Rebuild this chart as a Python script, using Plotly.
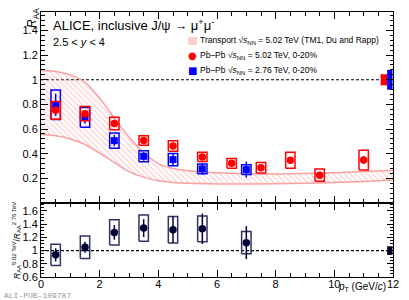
import plotly.graph_objects as go

# ---------------- data ----------------
pt_502 = [0.5, 1.5, 2.5, 3.5, 4.5, 5.5, 6.5, 7.5, 8.5, 9.5, 11.0]
raa_502 = [0.752, 0.725, 0.645, 0.507, 0.462, 0.374, 0.322, 0.286, 0.346, 0.226, 0.348]
stat_502 = [0.03, 0.025, 0.02, 0.02, 0.02, 0.02, 0.015, 0.015, 0.025, 0.02, 0.03]
sys_502 = [0.072, 0.058, 0.05, 0.038, 0.043, 0.037, 0.04, 0.043, 0.065, 0.05, 0.08]

pt_276 = [0.5, 1.5, 2.5, 3.5, 4.5, 5.5, 7.0]
raa_276 = [0.797, 0.695, 0.506, 0.379, 0.352, 0.277, 0.271]
stat_276 = [0.09, 0.05, 0.045, 0.035, 0.045, 0.047, 0.065]
sys_276 = [0.12, 0.08, 0.062, 0.045, 0.05, 0.04, 0.04]

pt_ratio = [0.5, 1.5, 2.5, 3.5, 4.5, 5.5, 7.0]
ratio = [0.935, 1.05, 1.275, 1.34, 1.315, 1.33, 1.12]
ratio_stat = [0.1, 0.083, 0.11, 0.135, 0.2, 0.23, 0.25]
ratio_sys = [0.16, 0.17, 0.19, 0.2, 0.2, 0.195, 0.17]

model_pt = [0, 0.5, 1, 1.5, 2, 2.5, 3, 3.5, 4, 4.5, 5, 6, 7, 8, 9, 10, 11, 12]
model_hi = [1.075, 1.068, 1.04, 0.98, 0.85, 0.69, 0.535, 0.41, 0.32, 0.28, 0.262,
            0.245, 0.238, 0.236, 0.24, 0.246, 0.255, 0.265]
model_lo = [0.555, 0.545, 0.52, 0.475, 0.405, 0.33, 0.255, 0.21, 0.18, 0.167, 0.16,
            0.155, 0.155, 0.156, 0.16, 0.166, 0.175, 0.187]

glob_502 = 0.045
glob_276 = 0.08
glob_ratio = 0.065

x_ticks = [0, 2, 4, 6, 8, 10, 12]
y_ticks_top = [0.2, 0.4, 0.6, 0.8, 1.0, 1.2, 1.4]
y_ticklabels_top = ["0.2", "0.4", "0.6", "0.8", "1", "1.2", "1.4"]
y_ticks_bot = [0.6, 0.8, 1.0, 1.2, 1.4, 1.6]
y_ticklabels_bot = ["0.6", "0.8", "1", "1.2", "1.4", "1.6"]

# ---------------- style ----------------
RED = "rgb(255,0,0)"
BLUE = "rgb(0,0,255)"
NAVY = "rgb(0,0,50)"
NAVY_BOX = "rgb(50,50,100)"
PINK = "rgb(250,160,160)"
BOX_HW = 0.16
FONT = "Liberation Sans"

# plot area in pixels (for paper-coordinate text placement)
L, R, T, B, W, H = 41, 16, 12, 23, 409, 300
PW, PH = W - L - R, H - T - B


def px(xp):
    return (xp - L) / PW


def py(yp):
    return (H - B - yp) / PH


def box_path(xs, ys, errs, hw):
    bx, by = [], []
    for x, y, e in zip(xs, ys, errs):
        bx += [x - hw, x + hw, x + hw, x - hw, x - hw, None]
        by += [y - e, y - e, y + e, y + e, y - e, None]
    return bx, by


def rect(x0, x1, yc, e):
    return [x0, x1, x1, x0, x0], [yc - e, yc - e, yc + e, yc + e, yc - e]


fig = go.Figure()

# transport model band
fig.add_trace(go.Scatter(x=model_pt, y=model_lo, mode="lines", line=dict(color=PINK, width=1.5, shape="spline"),
                         xaxis="x", yaxis="y", showlegend=False, hoverinfo="skip"))
fig.add_trace(go.Scatter(x=model_pt, y=model_hi, mode="lines", line=dict(color=PINK, width=1.5, shape="spline"),
                         fill="tonexty", fillcolor="rgba(0,0,0,0)",
                         fillpattern=dict(shape="\\", fgcolor="rgb(245,160,160)", bgcolor="rgba(0,0,0,0)",
                                          size=4, solidity=0.3),
                         xaxis="x", yaxis="y", showlegend=False, hoverinfo="skip"))

# 2.76 TeV
bx, by = box_path(pt_276, raa_276, sys_276, BOX_HW)
fig.add_trace(go.Scatter(x=bx, y=by, mode="lines", line=dict(color=BLUE, width=1.5),
                         xaxis="x", yaxis="y", showlegend=False))
fig.add_trace(go.Scatter(x=pt_276, y=raa_276, mode="markers",
                         marker=dict(symbol="square", size=7, color=BLUE),
                         error_y=dict(type="data", array=stat_276, thickness=1.5, width=0, color=BLUE),
                         xaxis="x", yaxis="y", showlegend=False))

# 5.02 TeV
bx, by = box_path(pt_502, raa_502, sys_502, BOX_HW)
fig.add_trace(go.Scatter(x=bx, y=by, mode="lines", line=dict(color=RED, width=1.5),
                         xaxis="x", yaxis="y", showlegend=False))
fig.add_trace(go.Scatter(x=pt_502, y=raa_502, mode="markers",
                         marker=dict(symbol="circle", size=7.5, color=RED),
                         error_y=dict(type="data", array=stat_502, thickness=1.5, width=0, color=RED),
                         xaxis="x", yaxis="y", showlegend=False))

# global uncertainties (top)
gx, gy = rect(11.58, 11.8, 1.0, glob_502)
fig.add_trace(go.Scatter(x=gx, y=gy, mode="lines", fill="toself", fillcolor=RED, line=dict(width=0.1, color=RED),
                         xaxis="x", yaxis="y", showlegend=False))
gx, gy = rect(11.8, 11.98, 1.0, glob_276)
fig.add_trace(go.Scatter(x=gx, y=gy, mode="lines", fill="toself", fillcolor=BLUE, line=dict(width=0.1, color=BLUE),
                         xaxis="x", yaxis="y", showlegend=False))

# ratio panel
bx, by = box_path(pt_ratio, ratio, ratio_sys, BOX_HW)
fig.add_trace(go.Scatter(x=bx, y=by, mode="lines", line=dict(color=NAVY_BOX, width=1.5),
                         xaxis="x2", yaxis="y2", showlegend=False))
fig.add_trace(go.Scatter(x=pt_ratio, y=ratio, mode="markers",
                         marker=dict(symbol="circle", size=7.5, color=NAVY),
                         error_y=dict(type="data", array=ratio_stat, thickness=1.5, width=0, color=NAVY),
                         xaxis="x2", yaxis="y2", showlegend=False))
gx, gy = rect(11.8, 11.98, 1.0, glob_ratio)
fig.add_trace(go.Scatter(x=gx, y=gy, mode="lines", fill="toself", fillcolor=NAVY, line=dict(width=0.1, color=NAVY),
                         xaxis="x2", yaxis="y2", showlegend=False))

# unity lines
for ya, xa in (("y", "x"), ("y2", "x2")):
    fig.add_shape(type="line", xref=xa, yref=ya, x0=0, x1=12, y0=1, y1=1,
                  line=dict(color="black", width=1.2, dash="3px,2px"), layer="below")

split = py(203)

axis_common = dict(showline=True, linecolor="black", linewidth=1, mirror="ticks", ticks="inside",
                   tickcolor="black", showgrid=False, zeroline=False, automargin=False,
                   tickfont=dict(family=FONT, size=11, color="black"))

fig.update_layout(
    width=W, height=H,
    margin=dict(l=L, r=R, t=T, b=B, autoexpand=False),
    paper_bgcolor="white", plot_bgcolor="white",
    showlegend=False,
    xaxis=dict(domain=[0, 1], anchor="y", range=[0, 12], tickvals=x_ticks, showticklabels=False,
               ticklen=7, minor=dict(dtick=0.5, ticklen=4, ticks="inside", tickcolor="black"),
               **axis_common),
    yaxis=dict(domain=[split, 1], anchor="x", range=[0, 1.55], tickvals=y_ticks_top,
               ticktext=y_ticklabels_top, ticklen=7,
               minor=dict(tick0=0, dtick=0.04, ticklen=3.5, ticks="inside", tickcolor="black"),
               **axis_common),
    xaxis2=dict(domain=[0, 1], anchor="y2", range=[0, 12], tickvals=x_ticks, matches="x",
                ticklen=7, ticklabelstandoff=-3,
                minor=dict(dtick=0.5, ticklen=4, ticks="inside", tickcolor="black"),
                **axis_common),
    yaxis2=dict(domain=[0, split], anchor="x2", range=[0.6, 1.72], tickvals=y_ticks_bot,
                ticktext=y_ticklabels_bot, ticklen=6,
                minor=dict(tick0=0.6, dtick=0.05, ticklen=3, ticks="inside", tickcolor="black"),
                **axis_common),
)

ann = []


def text(x, y, s, size, xanchor="left", yanchor="middle", color="black", family=FONT, angle=0):
    ann.append(dict(xref="paper", yref="paper", x=x, y=y, text=s, showarrow=False, xanchor=xanchor,
                    yanchor=yanchor, textangle=angle, font=dict(family=family, size=size, color=color)))


text(px(51), py(25), "ALICE, inclusive J/ψ → μ<sup>+</sup>μ<sup>-</sup>", 13)
text(px(51), py(42), "2.5 &lt; <i>y</i> &lt; 4", 11)

SQ = "√<i>s</i><sub>NN</sub>"
text(px(198), py(41), "Transport " + SQ + " = 5.02 TeV (TM1, Du and Rapp)", 8.5)
text(px(198), py(56), "Pb–Pb " + SQ + " = 5.02 TeV, 0-20%", 8.5)
text(px(198), py(71), "Pb–Pb " + SQ + " = 2.76 TeV, 0-20%", 8.5)
text(px(192), py(56), "●", 10, xanchor="center", color=RED, family="DejaVu Sans")
text(px(192), py(71), "■", 10, xanchor="center", color=BLUE, family="DejaVu Sans")
fig.add_shape(type="rect", xref="paper", yref="paper", x0=px(188), x1=px(197), y0=py(45), y1=py(37),
              fillcolor="rgba(250,160,160,0.5)", line=dict(width=0))

text(px(33), py(18), "<i>R</i><sub>AA</sub>", 12, xanchor="center", angle=-90)
text(px(16), py(240), "<i>R</i><sub>AA</sub><sup>5.02 TeV</sup>/<i>R</i><sub>AA</sub><sup>2.76 TeV</sup>",
     8.5, xanchor="center", angle=-90)
text(px(388), py(287), "<i>p</i><sub>T</sub> (GeV/<i>c</i>)", 10, xanchor="right")
text(px(2), py(295), "ALI-PUB-109787", 8, color="rgb(150,150,150)", family="Liberation Mono")

fig.update_layout(annotations=ann)
fig.write_html("out.html", config={"displayModeBar": False},
               post_script="document.body.style.margin='0';document.body.style.overflow='hidden';")
